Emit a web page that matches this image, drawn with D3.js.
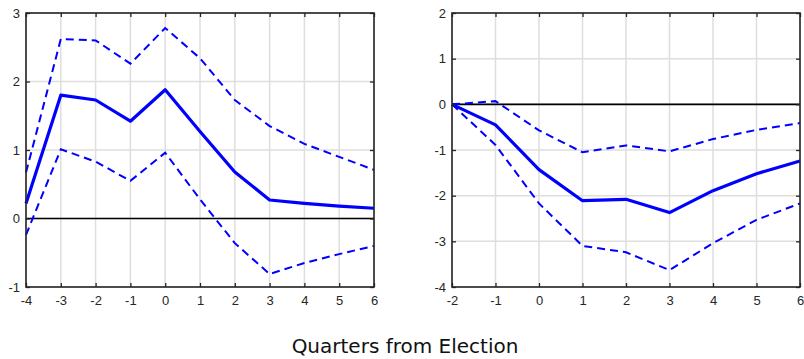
<!DOCTYPE html>
<html>
<head>
<meta charset="utf-8">
<script src="https://cdn.jsdelivr.net/npm/d3@7"></script>
<style>
  html, body { margin: 0; padding: 0; background: #fff; }
  svg { display: block; }
  .tick text { font-family: "Liberation Sans", Arial, sans-serif; font-size: 13px; fill: #262626; }
</style>
</head>
<body>
<svg id="chart" width="804" height="359"></svg>
<script>
// Left panel: response from 4 quarters before to 6 quarters after
const quartersA = [-4, -3, -2, -1, 0, 1, 2, 3, 4, 5, 6];
const meanA  = [0.22, 1.80, 1.73, 1.42, 1.88, 1.27, 0.68, 0.27, 0.22, 0.18, 0.15];
const upperA = [0.67, 2.62, 2.60, 2.26, 2.78, 2.34, 1.73, 1.35, 1.09, 0.90, 0.71];
const lowerA = [-0.24, 1.01, 0.83, 0.55, 0.96, 0.28, -0.36, -0.81, -0.65, -0.52, -0.40];
const yTicksA = [-1, 0, 1, 2, 3];

// Right panel: response from 2 quarters before to 6 quarters after
const quartersB = [-2, -1, 0, 1, 2, 3, 4, 5, 6];
const meanB  = [0, -0.45, -1.43, -2.11, -2.08, -2.37, -1.89, -1.52, -1.24];
const upperB = [0, 0.07, -0.57, -1.05, -0.90, -1.03, -0.76, -0.56, -0.41];
const lowerB = [0, -0.89, -2.17, -3.10, -3.24, -3.63, -3.04, -2.53, -2.17];
const yTicksB = [-4, -3, -2, -1, 0, 1, 2];

const xLabel = "Quarters from Election";

const svg = d3.select("#chart");
const plain = d => String(d);

function panel(opts) {
  const { left, right, top, bottom, xs, mean, upper, lower, yDomain, yTicks } = opts;
  const x = d3.scaleLinear().domain(d3.extent(xs)).range([left, right]);
  const y = d3.scaleLinear().domain(yDomain).range([bottom, top]);
  const g = svg.append("g");

  // grid
  g.append("g").selectAll("line").data(xs).join("line")
    .attr("x1", d => x(d)).attr("x2", d => x(d))
    .attr("y1", top).attr("y2", bottom)
    .attr("stroke", "#dedede").attr("stroke-width", 1.5);
  g.append("g").selectAll("line").data(yTicks).join("line")
    .attr("x1", left).attr("x2", right)
    .attr("y1", d => y(d)).attr("y2", d => y(d))
    .attr("stroke", "#dedede").attr("stroke-width", 1.5);

  // zero reference line
  g.append("line")
    .attr("x1", left).attr("x2", right)
    .attr("y1", y(0)).attr("y2", y(0))
    .attr("stroke", "#000").attr("stroke-width", 1.6);

  const line = d3.line().x((d, i) => x(xs[i])).y(d => y(d));

  [upper, lower].forEach(s => {
    g.append("path").datum(s)
      .attr("d", line)
      .attr("fill", "none")
      .attr("stroke", "#0000ff")
      .attr("stroke-width", 2)
      .attr("stroke-dasharray", "8,5");
  });
  g.append("path").datum(mean)
    .attr("d", line)
    .attr("fill", "none")
    .attr("stroke", "#0000ff")
    .attr("stroke-width", 3.2)
    .attr("stroke-linejoin", "round");

  // axes with inward ticks on all four sides
  const tk = 4;
  g.append("g").attr("transform", `translate(0,${bottom})`)
    .call(d3.axisBottom(x).tickValues(xs).tickFormat(plain).tickSize(-tk).tickPadding(9));
  g.append("g").attr("transform", `translate(${left},0)`)
    .call(d3.axisLeft(y).tickValues(yTicks).tickFormat(plain).tickSize(-tk).tickPadding(6));
  g.append("g").attr("transform", `translate(0,${top})`)
    .call(d3.axisTop(x).tickValues(xs).tickFormat("").tickSize(-tk));
  g.append("g").attr("transform", `translate(${right},0)`)
    .call(d3.axisRight(y).tickValues(yTicks).tickFormat("").tickSize(-tk));
  g.selectAll(".domain").remove();
  g.selectAll(".tick line").attr("stroke", "#262626").attr("stroke-width", 1.3);

  g.append("rect")
    .attr("x", left).attr("y", top)
    .attr("width", right - left).attr("height", bottom - top)
    .attr("fill", "none").attr("stroke", "#262626").attr("stroke-width", 1.6);
}

panel({ left: 26, right: 374, top: 13, bottom: 287,
  xs: quartersA, mean: meanA, upper: upperA, lower: lowerA,
  yDomain: [-1, 3], yTicks: yTicksA });

panel({ left: 452, right: 800, top: 13, bottom: 287,
  xs: quartersB, mean: meanB, upper: upperB, lower: lowerB,
  yDomain: [-4, 2], yTicks: yTicksB });

svg.append("text")
  .attr("x", 405).attr("y", 353)
  .attr("text-anchor", "middle")
  .attr("font-family", "'DejaVu Sans', sans-serif")
  .attr("font-size", 20)
  .attr("fill", "#111")
  .text(xLabel);
</script>
</body>
</html>
